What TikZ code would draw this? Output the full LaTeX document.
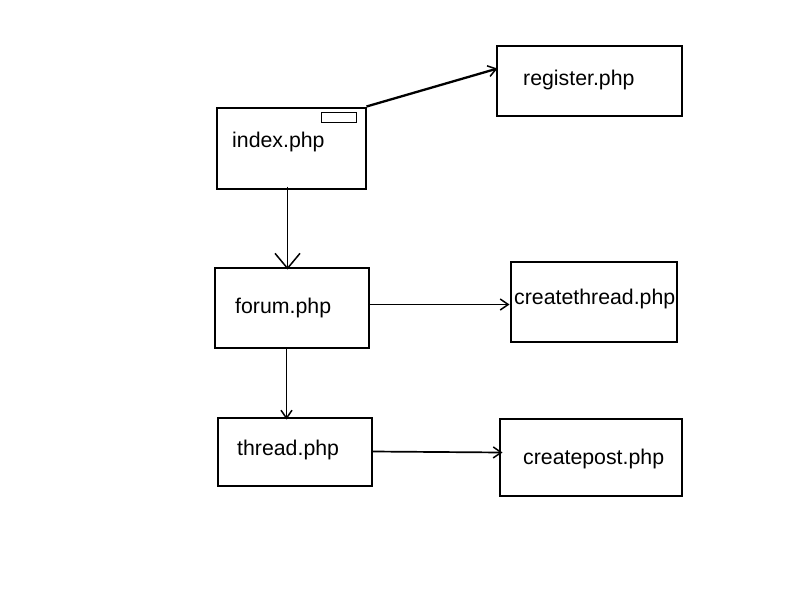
\documentclass[tikz,border=0pt]{standalone}
\usepackage{fontspec}
\setmainfont{Liberation Sans}
\usetikzlibrary{arrows.meta}
\begin{document}
\begin{tikzpicture}[x=1pt,y=-1pt,
  box/.style={draw, line width=2pt, anchor=north west, inner sep=0pt},
  lbl/.style={anchor=base west, inner sep=0pt, font=\fontsize{21.3}{26}\selectfont},
  conn/.style={draw, line width=1.7pt, -{Straight Barb[length=8pt,width=11pt,line width=1.5pt]}},
  bigconn/.style={draw, line width=1.7pt, -{Straight Barb[length=15pt,width=25pt,line width=1.5pt]}}]
\useasboundingbox[fill=white] (0,0) rectangle (800,600);
% boxes
\node[box, minimum width=149pt, minimum height=81pt] (index) at (215.5,106.5) {};
\node[box, minimum width=35pt, minimum height=10pt, line width=1.5pt] (tab) at (320.5,111.5) {};
\node[box, minimum width=185pt, minimum height=70pt] (register) at (495.5,44.5) {};
\node[box, minimum width=154pt, minimum height=80pt] (forum) at (213.5,266.5) {};
\node[box, minimum width=166pt, minimum height=80pt] (createthread) at (509.5,260.5) {};
\node[box, minimum width=154pt, minimum height=68pt] (thread) at (216.5,416.5) {};
\node[box, minimum width=182pt, minimum height=77pt] (createpost) at (498.5,417.5) {};
% labels
\node[lbl] (tindex) at (232,147) {index.php};
\node[lbl] (tregister) at (523,85) {register.php};
\node[lbl] (tforum) at (235,313) {forum.php};
\node[lbl] (tcreatethread) at (514,304) {createthread.php};
\node[lbl] (tthread) at (237,455) {thread.php};
\node[lbl] (tcreatepost) at (523,464) {createpost.php};
% connectors
\draw[conn, line width=2.3pt] (index.north east) -- ([xshift=2pt,yshift=12pt]register.west);
\draw[bigconn] ([xshift=-3.5pt,yshift=3pt]index.south) -- ([xshift=-4pt,yshift=-3pt]forum.north);
\draw[conn] ([yshift=3pt]forum.east) -- ([yshift=-3pt]createthread.west);
\draw[conn] ([xshift=-5pt]forum.south) -- ([xshift=-8pt,yshift=-3pt]thread.north);
\draw[conn] (thread.east) -- ([xshift=4pt,yshift=4.5pt]createpost.west);
\end{tikzpicture}
\end{document}
